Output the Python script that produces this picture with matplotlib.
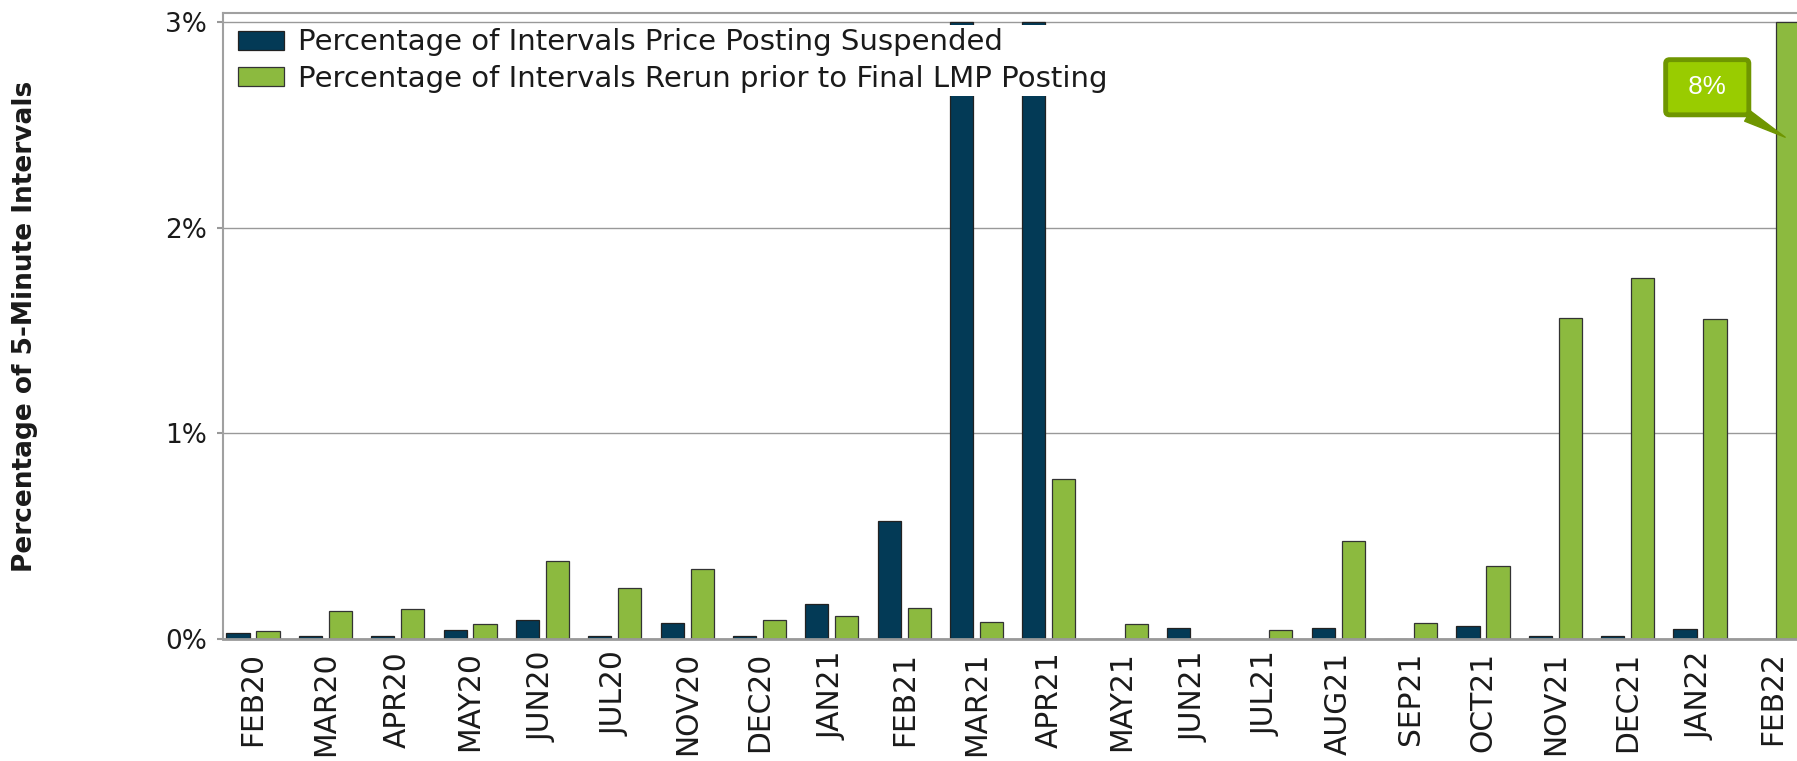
import numpy as np
import matplotlib
matplotlib.use('Agg')
from matplotlib import pyplot as plt
from matplotlib.ticker import FuncFormatter

plt.rcParams['font.family'] = ['DejaVu Sans']

# Monthly data (percent of 5-minute intervals)
months = ['FEB20', 'MAR20', 'APR20', 'MAY20', 'JUN20', 'JUL20', 'NOV20', 'DEC20',
          'JAN21', 'FEB21', 'MAR21', 'APR21', 'MAY21', 'JUN21', 'JUL21', 'AUG21',
          'SEP21', 'OCT21', 'NOV21', 'DEC21', 'JAN22', 'FEB22']
suspended = [0.028, 0.013, 0.013, 0.044, 0.094, 0.013, 0.078, 0.013,
             0.172, 0.572, 3.5, 3.5, 0.0, 0.055, 0.0, 0.055,
             0.0, 0.061, 0.013, 0.013, 0.050, 0.0]
rerun = [0.037, 0.138, 0.144, 0.072, 0.378, 0.250, 0.339, 0.094,
         0.111, 0.150, 0.083, 0.778, 0.072, 0.0, 0.044, 0.478,
         0.078, 0.356, 1.561, 1.756, 1.556, 8.0]
series_names = ['Percentage of Intervals Price Posting Suspended',
                'Percentage of Intervals Rerun prior to Final LMP Posting']
y_cap = 3.0  # axis is cut at 3%, taller bars are capped
callout_text = '8%'

dark = '#033a56'
green = '#8cba3f'

fig = plt.figure(figsize=(17.97, 7.61), dpi=100)
ax = fig.add_axes([0.1239, 0.1603, 0.8793, 0.8226])

x = np.arange(len(months))
off, w = 0.207, 0.32
b1 = ax.bar(x - off, np.minimum(suspended, y_cap), w, color=dark, edgecolor='#222222', linewidth=0.9)
b2 = ax.bar(x + off, np.minimum(rerun, y_cap), w, color=green, edgecolor='#333333', linewidth=0.9)

ax.set_xlim(-0.42, 21.42)
ax.set_ylim(0, 3.044)
ax.set_yticks([0, 1, 2, 3])
ax.yaxis.set_major_formatter(FuncFormatter(lambda v, p: f'{v:.0f}%'))
ax.set_xticks(x)
ax.set_xticklabels(months, rotation=90)

ax.yaxis.grid(True, color='#999999', linewidth=1)
ax.set_axisbelow(True)

for side in ['left', 'top']:
    ax.spines[side].set_color('#a0a0a0')
    ax.spines[side].set_linewidth(1.5)
ax.spines['bottom'].set_color('#999999')
ax.spines['bottom'].set_linewidth(2)
ax.spines['right'].set_visible(False)

ax.tick_params(axis='y', length=4.3, width=1.5, color='#999999', pad=7, labelsize=19, labelcolor='#1a1a1a')
ax.tick_params(axis='x', length=0, pad=9, labelsize=21.4, labelcolor='#1a1a1a')

ax.set_ylabel('Percentage of 5-Minute Intervals', fontsize=19, fontweight='bold', color='#1a1a1a')
ax.yaxis.label.set_va('center')
ax.yaxis.set_label_coords(-0.125, 0.5)

leg = ax.legend([b1, b2], series_names, loc='upper left', bbox_to_anchor=(0.0072, 0.981),
                borderaxespad=0, borderpad=0.12, handlelength=1.6, handleheight=0.62,
                handletextpad=0.47, labelspacing=0.29, fontsize=21,
                frameon=True, fancybox=False, framealpha=1)
leg.get_frame().set_facecolor('white')
leg.get_frame().set_edgecolor('none')
for t in leg.get_texts():
    t.set_color('#1a1a1a')

# callout for the off-scale FEB22 bar
ax.annotate(' ' + callout_text + ' ', xy=(len(months) - 1 + off - 0.03, 2.44), xytext=(20.1, 2.683),
            ha='center', va='center', color='white', fontsize=18.7, family='Liberation Sans',
            bbox=dict(boxstyle='round,pad=0.6,rounding_size=0.15', fc='#99cc00', ec='#6f9600', lw=3.5),
            arrowprops=dict(arrowstyle='wedge,tail_width=0.45', fc='#6f9600', ec='#6f9600',
                            relpos=(0.7, 0), shrinkA=0, shrinkB=0))

fig.savefig('out.png', dpi=100)
